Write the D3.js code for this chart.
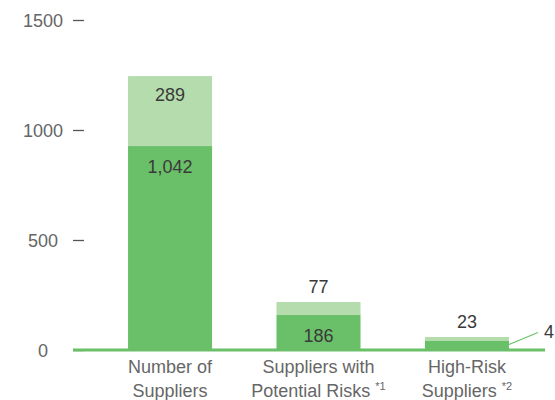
<!DOCTYPE html>
<html>
<head>
<meta charset="utf-8">
<script src="https://cdn.jsdelivr.net/npm/d3@7"></script>
<style>
  html, body { margin: 0; padding: 0; background: #fff; }
  svg { display: block; font-family: "Liberation Sans", Arial, sans-serif; }
</style>
</head>
<body>
<svg id="chart" width="555" height="400"></svg>
<script>
// ---- data ----
const categories = ["Number of Suppliers", "Suppliers with Potential Risks", "High-Risk Suppliers"];
const categoryLine1 = ["Number of", "Suppliers with", "High-Risk"];
const categoryLine2 = ["Suppliers", "Potential Risks", "Suppliers"];
const categoryNotes = ["", "*1", "*2"];
// bar segment heights as drawn (in axis units)
const darkHeights = [927, 159, 41];
const lightHeights = [318, 59, 18];
// printed value labels
const darkLabels = ["1,042", "186", "4"];
const lightLabels = ["289", "77", "23"];
const yTicks = [0, 500, 1000, 1500];

// ---- layout ----
const svg = d3.select("#chart");
const darkColor = "#6abf69";
const lightColor = "#b4dcac";

const y = d3.scaleLinear().domain([0, 1500]).range([350, 20]);
const x = d3.scaleBand().domain(categories).range([83.5, 553.5])
  .paddingInner(0.434).paddingOuter(0.3);

// y axis
const axisX = 84;
const yAxis = d3.axisLeft(y).tickValues(yTicks).tickFormat(d3.format("d"))
  .tickSize(11).tickPadding(0);
const gAxis = svg.append("g").attr("transform", `translate(${axisX},0)`).call(yAxis);
gAxis.select(".domain").remove();
gAxis.selectAll(".tick line").attr("stroke", "#555").attr("stroke-width", 1.3);
gAxis.selectAll(".tick text")
  .attr("x", 43 - axisX)
  .attr("text-anchor", "middle")
  .attr("dy", "0.35em")
  .attr("fill", "#666")
  .style("font-size", "18px")
  .style("font-family", "'Liberation Sans', Arial, sans-serif");

// bars
const bars = svg.append("g");
categories.forEach((c, i) => {
  const x0 = x(c), w = x.bandwidth();
  const total = darkHeights[i] + lightHeights[i];
  bars.append("rect")
    .attr("x", x0).attr("width", w)
    .attr("y", y(total)).attr("height", y(darkHeights[i]) - y(total))
    .attr("fill", lightColor);
  bars.append("rect")
    .attr("x", x0).attr("width", w)
    .attr("y", y(darkHeights[i])).attr("height", y(0) - y(darkHeights[i]))
    .attr("fill", darkColor);
});

// baseline
svg.append("line")
  .attr("x1", 73).attr("x2", 545)
  .attr("y1", y(0)).attr("y2", y(0))
  .attr("stroke", darkColor).attr("stroke-width", 3);

// value labels
const labels = svg.append("g").attr("fill", "#3a3a3a").style("font-size", "18px");
categories.forEach((c, i) => {
  const cx = x(c) + x.bandwidth() / 2;
  const total = darkHeights[i] + lightHeights[i];
  const lightPx = y(darkHeights[i]) - y(total);
  // light segment label: inside if tall enough, otherwise above
  labels.append("text")
    .attr("x", cx)
    .attr("y", lightPx > 30 ? y(total) + 25 : y(total) - 9)
    .attr("text-anchor", "middle")
    .text(lightLabels[i]);
  const darkPx = y(0) - y(darkHeights[i]);
  if (darkPx > 20) {
    labels.append("text")
      .attr("x", cx)
      .attr("y", y(darkHeights[i]) + 27)
      .attr("text-anchor", "middle")
      .text(darkLabels[i]);
  } else {
    const xr = x(c) + x.bandwidth();
    const ym = (y(darkHeights[i]) + y(0)) / 2 - 1;
    svg.append("line")
      .attr("x1", xr).attr("y1", ym)
      .attr("x2", xr + 29).attr("y2", ym - 12)
      .attr("stroke", darkColor).attr("stroke-width", 1.2);
    labels.append("text")
      .attr("x", xr + 35)
      .attr("y", ym - 6)
      .attr("text-anchor", "start")
      .text(darkLabels[i]);
  }
});

// category labels
const cat = svg.append("g").attr("fill", "#666").style("font-size", "18px");
categories.forEach((c, i) => {
  const cx = x(c) + x.bandwidth() / 2;
  cat.append("text").attr("x", cx).attr("y", 373)
    .attr("text-anchor", "middle").text(categoryLine1[i]);
  const t = cat.append("text").attr("x", cx).attr("y", 397)
    .attr("text-anchor", "middle");
  t.append("tspan").text(categoryLine2[i]);
  if (categoryNotes[i]) {
    t.append("tspan").text(" ").style("font-size", "18px");
    t.append("tspan").text(categoryNotes[i])
      .attr("dy", -7).style("font-size", "11px");
  }
});
</script>
</body>
</html>
